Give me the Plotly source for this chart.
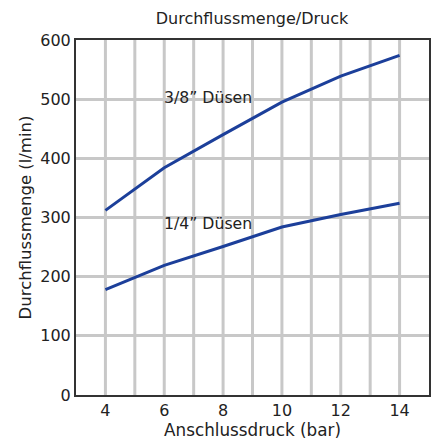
import plotly.graph_objects as go

pressure_bar = [4, 6, 8, 10, 12, 14]
flow_38 = [312, 384, 440, 495, 539, 574]
flow_14 = [178, 219, 251, 284, 305, 324]
label_38 = "3/8” Düsen"
label_14 = "1/4” Düsen"

line_color = "#1c3f9a"
grid_color = "#c8c8c8"
axis_color = "#333333"
text_color = "#222222"
font_family = "DejaVu Sans, Verdana, sans-serif"

fig = go.Figure()
fig.add_trace(go.Scatter(x=pressure_bar, y=flow_38, mode="lines",
                         line=dict(color=line_color, width=3), name=label_38))
fig.add_trace(go.Scatter(x=pressure_bar, y=flow_14, mode="lines",
                         line=dict(color=line_color, width=3), name=label_14))

fig.add_annotation(x=6, y=503, text=label_38, showarrow=False, xanchor="left",
                   xshift=-2, font=dict(size=15.7, color=text_color))
fig.add_annotation(x=6, y=290, text=label_14, showarrow=False, xanchor="left",
                   xshift=-2, font=dict(size=15.7, color=text_color))

fig.update_layout(
    width=436, height=441,
    margin=dict(l=76, r=5, t=40, b=46),
    paper_bgcolor="white", plot_bgcolor="white",
    showlegend=False,
    font=dict(family=font_family, size=16, color=text_color),
    title=dict(text="Durchflussmenge/Druck", x=0.578, xanchor="center",
               y=0.958, yanchor="middle", font=dict(size=16, color=text_color)),
)
fig.update_xaxes(
    range=[3, 15], tickvals=[4, 6, 8, 10, 12, 14],
    tickfont=dict(size=16),
    showgrid=False, ticks="", zeroline=False,
    showline=True, linecolor=axis_color, linewidth=2, mirror=True,
    title=dict(text="Anschlussdruck (bar)", standoff=3, font=dict(size=16.8)),
)
fig.update_yaxes(
    range=[0, 600], tickvals=[0, 100, 200, 300, 400, 500, 600],
    tickfont=dict(size=16),
    showgrid=True, gridcolor=grid_color, gridwidth=3, zeroline=False,
    showline=True, linecolor=axis_color, linewidth=2, mirror=True,
    ticks="", title=dict(text="Durchflussmenge (l/min)", standoff=4, font=dict(size=16.5)),
)
# vertical grid every 1 bar
for xv in range(4, 15):
    fig.add_shape(type="line", x0=xv, x1=xv, y0=0, y1=600, xref="x", yref="y",
                  line=dict(color=grid_color, width=3), layer="below")

fig.write_html("out.html")
